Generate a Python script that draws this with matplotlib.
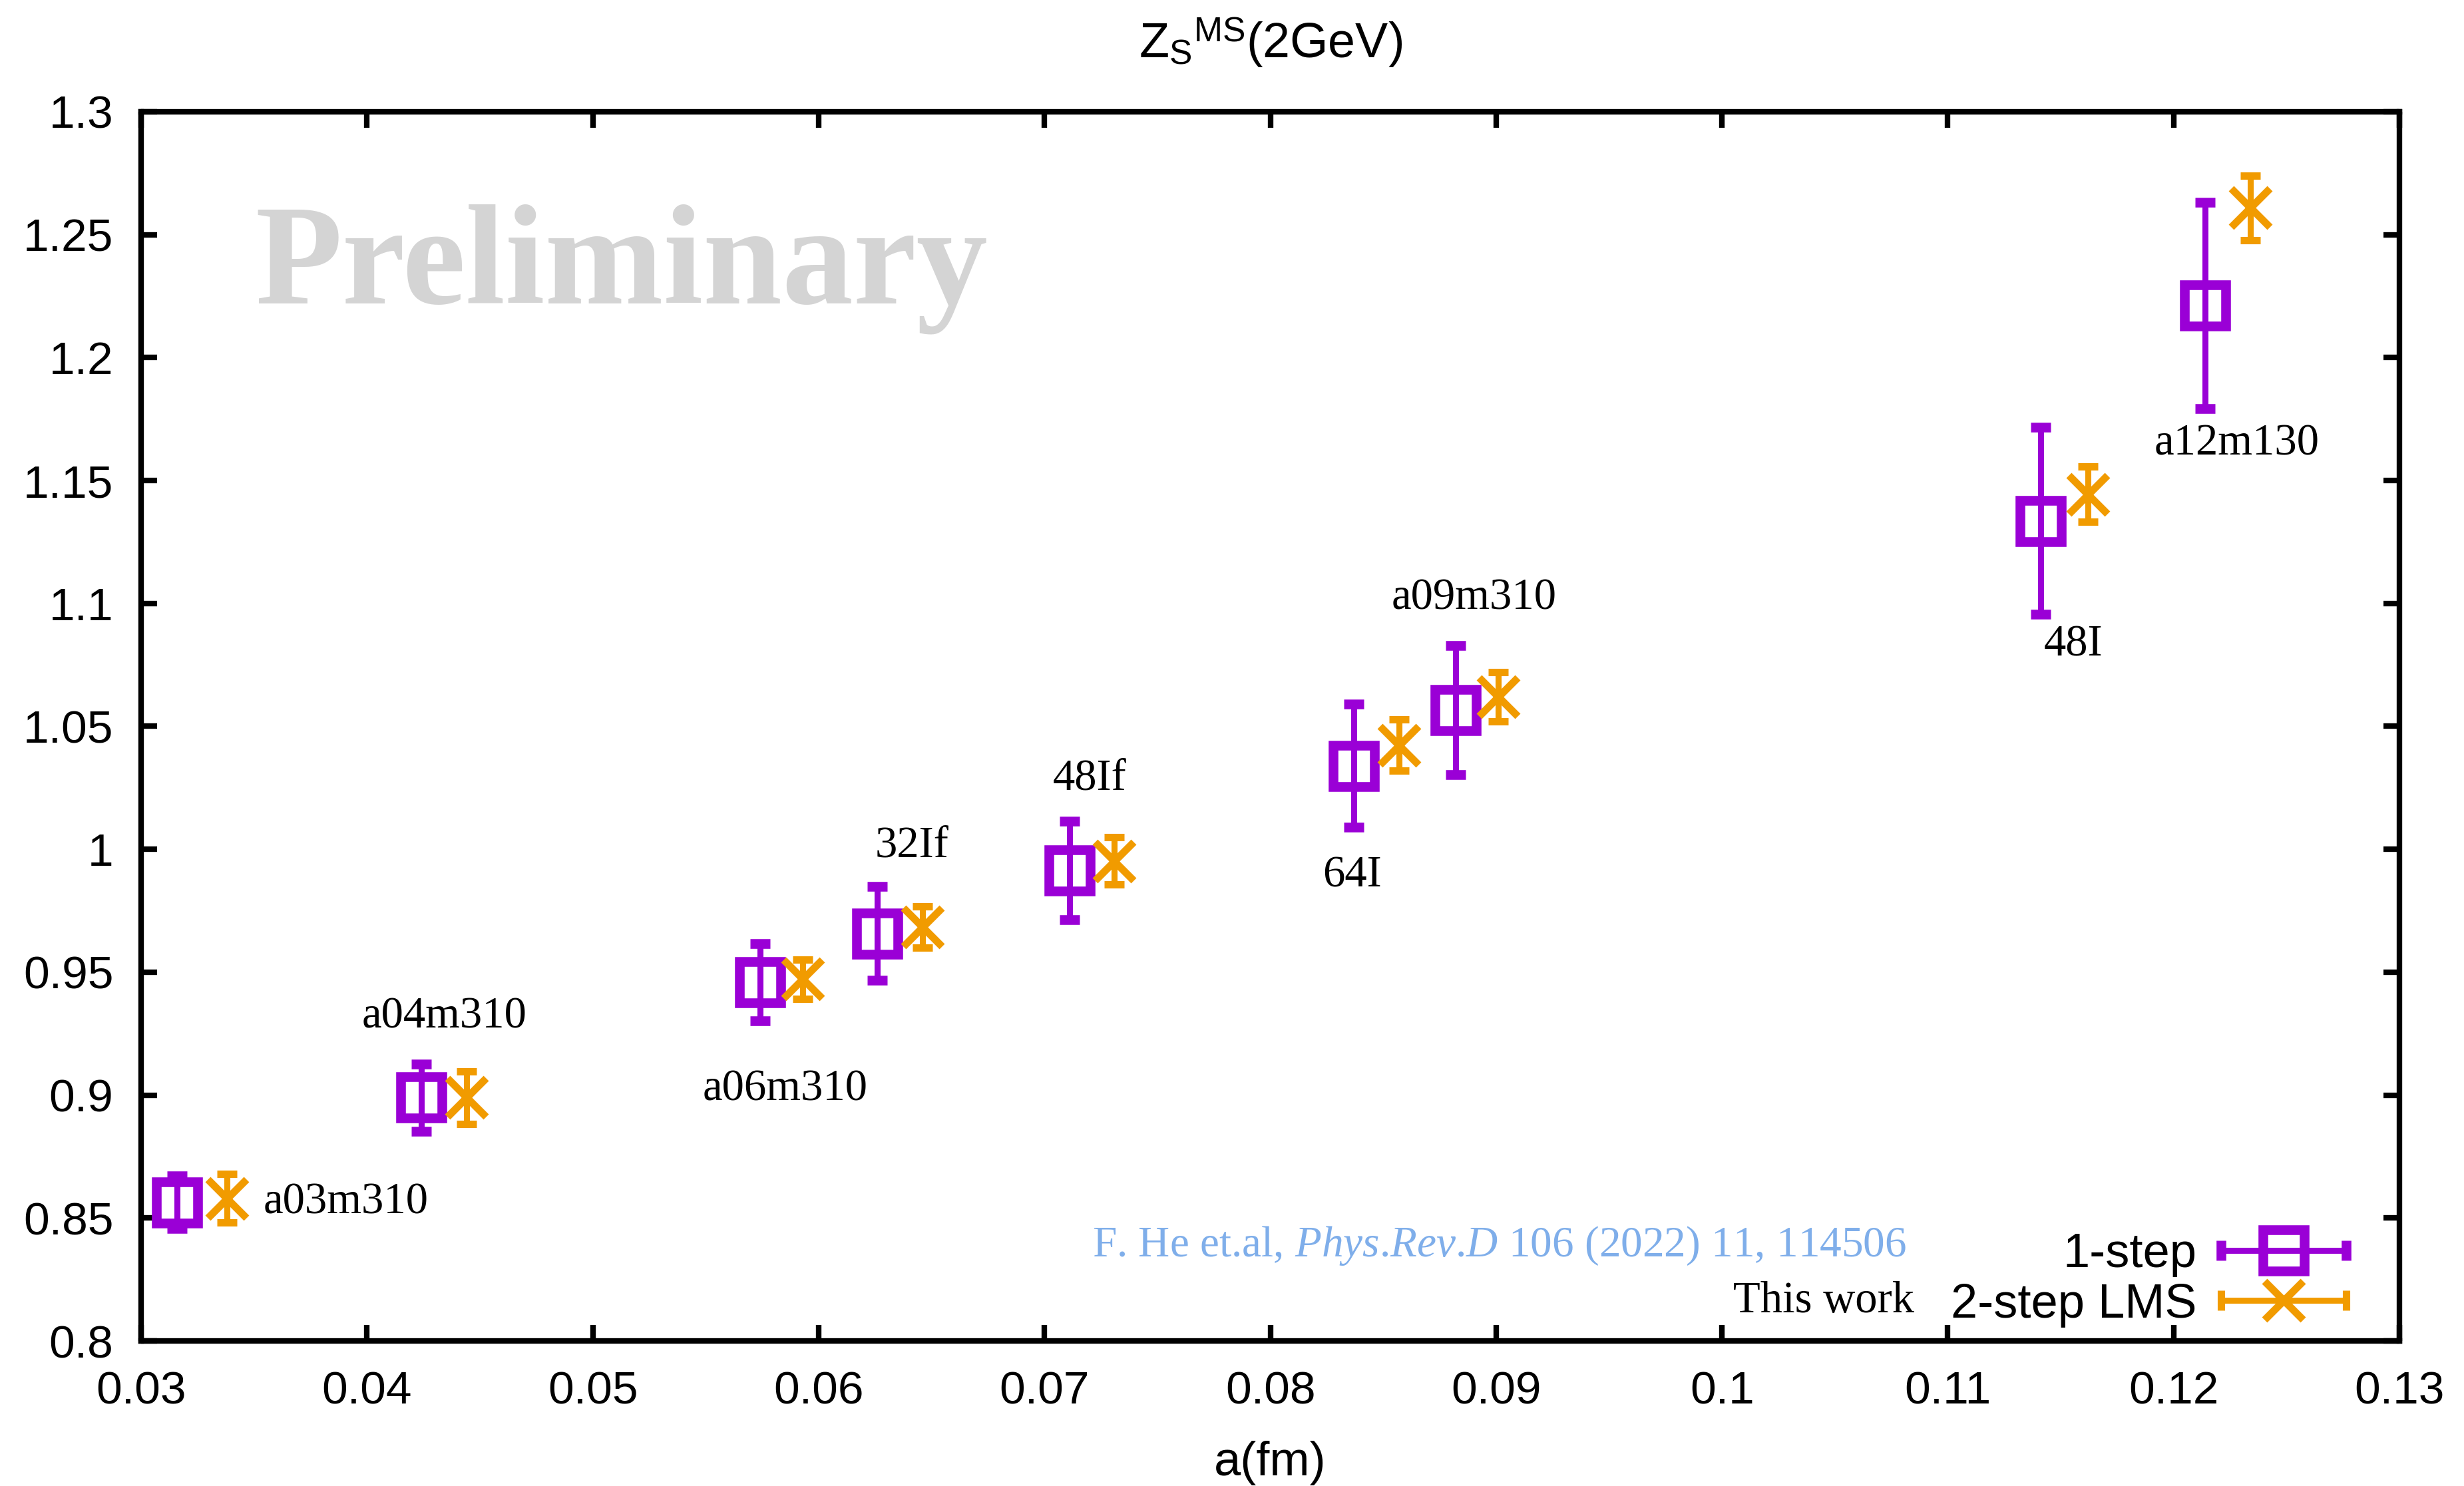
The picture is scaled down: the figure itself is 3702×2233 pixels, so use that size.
import numpy as np
import matplotlib
matplotlib.use("Agg")
import matplotlib.pyplot as plt
from matplotlib.container import ErrorbarContainer
from matplotlib.legend_handler import HandlerErrorbar

plt.rcParams['font.family'] = ['Liberation Sans', 'DejaVu Sans']
plt.rcParams['mathtext.fontset'] = 'custom'
plt.rcParams['mathtext.rm'] = 'Liberation Serif'
plt.rcParams['mathtext.it'] = 'Liberation Serif:italic'

# lattice spacing a(fm) and Z_S values
names = ['a03m310', 'a04m310', 'a06m310', '32If', '48If', '64I', 'a09m310', '48I', 'a12m130']
a_one = [0.0316, 0.0424, 0.0574, 0.0626, 0.0711, 0.0837, 0.0882, 0.1141, 0.1214]
z_one = [0.8564, 0.8990, 0.9460, 0.9658, 0.9914, 1.0340, 1.0566, 1.1336, 1.2212]
e_one = [0.0107, 0.0136, 0.0157, 0.0192, 0.0200, 0.0250, 0.0262, 0.0380, 0.0420]

a_two = [0.0338, 0.0444, 0.0593, 0.0646, 0.0731, 0.0857, 0.0901, 0.1162, 0.1234]
z_two = [0.8580, 0.8990, 0.9472, 0.9684, 0.9953, 1.0424, 1.0620, 1.1444, 1.2609]
e_two = [0.0099, 0.0107, 0.0080, 0.0083, 0.0096, 0.0105, 0.0100, 0.0112, 0.0131]

xticks = [0.03, 0.04, 0.05, 0.06, 0.07, 0.08, 0.09, 0.10, 0.11, 0.12, 0.13]
xtick_labels = ['0.03', '0.04', '0.05', '0.06', '0.07', '0.08', '0.09', '0.1', '0.11', '0.12', '0.13']
yticks = [0.8, 0.85, 0.9, 0.95, 1.0, 1.05, 1.1, 1.15, 1.2, 1.25, 1.3]
ytick_labels = ['0.8', '0.85', '0.9', '0.95', '1', '1.05', '1.1', '1.15', '1.2', '1.25', '1.3']

# label offsets (points) from the 1-step point
label_dx = [182, 25, 27, 37, 22, -2, 20, 36, 34]
label_dy = [0, 87, -116, 95, 99, -119, 121, -134, -150]

purple = '#9A00D6'
orange = '#F19B00'

fig = plt.figure(figsize=(37.02, 22.33), dpi=100)
ax = fig.add_axes([0.0573, 0.0976, 0.9165, 0.8272])

one = ax.errorbar(a_one, z_one, yerr=e_one, fmt='s', color=purple, mfc='none',
                  ms=44, mew=10.5, elinewidth=6.5, capsize=10.5, capthick=8, zorder=3)
two = ax.errorbar(a_two, z_two, yerr=e_two, fmt='x', color=orange,
                  ms=42, mew=8, elinewidth=6.5, capsize=10.5, capthick=8, zorder=4)

for n, x, y, dx, dy in zip(names, a_one, z_one, label_dx, label_dy):
    ax.annotate(n, (x, y), xytext=(dx, dy), textcoords='offset points',
                ha='center', va='center', fontsize=48, family='Liberation Serif')

ax.text(0.0505, 0.872, 'Preliminary', transform=ax.transAxes, fontsize=154,
        fontweight='bold', family='Liberation Serif', color='#d4d4d4',
        ha='left', va='center', zorder=0)

ax.text(0.7816, 0.0774, r'F. He et.al, $\it{Phys}$.$\it{Rev}$.$\it{D}$ 106 (2022) 11, 114506',
        transform=ax.transAxes, fontsize=47, family='Liberation Serif',
        color='#7FAEEA', ha='right', va='center')
ax.text(0.785, 0.0325, 'This work', transform=ax.transAxes, fontsize=48,
        family='Liberation Serif', color='black', ha='right', va='center')

p1 = ErrorbarContainer(one.lines, has_xerr=True, has_yerr=False, label='1-step')
p2 = ErrorbarContainer(two.lines, has_xerr=True, has_yerr=False, label='2-step LMS')
ax.legend([p1, p2], ['1-step', '2-step LMS'], loc='lower right', frameon=False,
          fontsize=52, markerfirst=False, numpoints=1, handlelength=2.6,
          handletextpad=0.5, labelspacing=0.12, borderaxespad=0.25,
          borderpad=0.3, bbox_to_anchor=(0.988, -0.0105),
          handler_map={ErrorbarContainer: HandlerErrorbar(xerr_size=1.3)})

ax.set_xlim(0.03, 0.13)
ax.set_ylim(0.8, 1.3)
ax.set_xticks(xticks)
ax.set_xticklabels(xtick_labels)
ax.set_yticks(yticks)
ax.set_yticklabels(ytick_labels)
ax.tick_params(direction='in', length=17, width=6, top=True, right=True, labelsize=50)
ax.tick_params(axis='x', pad=32)
ax.tick_params(axis='y', pad=30)
for s in ax.spines.values():
    s.set_linewidth(6)

ax.set_xlabel('a(fm)', fontsize=52, labelpad=30)
ax.set_title(r'Z$_{\mathregular{S}}$$^{\mathregular{MS}}$(2GeV)', fontsize=53, pad=58)

fig.savefig('out.png', dpi=100)
